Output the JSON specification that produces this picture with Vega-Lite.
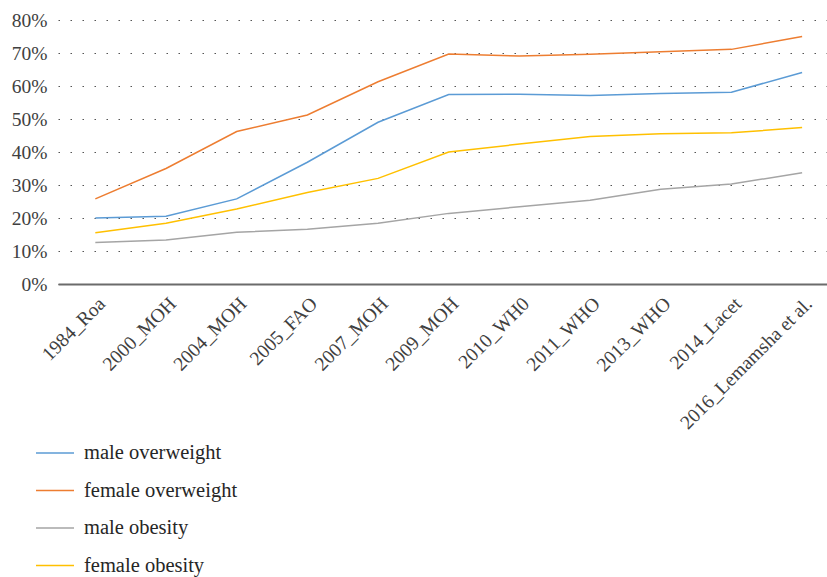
{
  "$schema": "https://vega.github.io/schema/vega-lite/v6.json",
  "width": 769,
  "height": 264,
  "autosize": "none",
  "padding": {"left": 58, "top": 20, "right": 0, "bottom": 293},
  "background": "white",
  "config": {
    "view": {"stroke": null},
    "font": "Liberation Serif, DejaVu Serif, serif",
    "axis": {"labelFont": "Liberation Serif, DejaVu Serif, serif"},
    "legend": {"labelFont": "Liberation Serif, DejaVu Serif, serif"}
  },
  "data": {
    "values": [
      {"source": "1984_Roa", "series": "male overweight", "value": 0.200},
      {"source": "2000_MOH", "series": "male overweight", "value": 0.205},
      {"source": "2004_MOH", "series": "male overweight", "value": 0.258},
      {"source": "2005_FAO", "series": "male overweight", "value": 0.369},
      {"source": "2007_MOH", "series": "male overweight", "value": 0.490},
      {"source": "2009_MOH", "series": "male overweight", "value": 0.574},
      {"source": "2010_WH0", "series": "male overweight", "value": 0.575},
      {"source": "2011_WHO", "series": "male overweight", "value": 0.571},
      {"source": "2013_WHO", "series": "male overweight", "value": 0.577},
      {"source": "2014_Lacet", "series": "male overweight", "value": 0.581},
      {"source": "2016_Lemamsha et al.", "series": "male overweight", "value": 0.641},
      {"source": "1984_Roa", "series": "female overweight", "value": 0.258},
      {"source": "2000_MOH", "series": "female overweight", "value": 0.350},
      {"source": "2004_MOH", "series": "female overweight", "value": 0.462},
      {"source": "2005_FAO", "series": "female overweight", "value": 0.512},
      {"source": "2007_MOH", "series": "female overweight", "value": 0.613},
      {"source": "2009_MOH", "series": "female overweight", "value": 0.697},
      {"source": "2010_WH0", "series": "female overweight", "value": 0.691},
      {"source": "2011_WHO", "series": "female overweight", "value": 0.696},
      {"source": "2013_WHO", "series": "female overweight", "value": 0.704},
      {"source": "2014_Lacet", "series": "female overweight", "value": 0.711},
      {"source": "2016_Lemamsha et al.", "series": "female overweight", "value": 0.750},
      {"source": "1984_Roa", "series": "male obesity", "value": 0.126},
      {"source": "2000_MOH", "series": "male obesity", "value": 0.133},
      {"source": "2004_MOH", "series": "male obesity", "value": 0.157},
      {"source": "2005_FAO", "series": "male obesity", "value": 0.166},
      {"source": "2007_MOH", "series": "male obesity", "value": 0.184},
      {"source": "2009_MOH", "series": "male obesity", "value": 0.214},
      {"source": "2010_WH0", "series": "male obesity", "value": 0.234},
      {"source": "2011_WHO", "series": "male obesity", "value": 0.254},
      {"source": "2013_WHO", "series": "male obesity", "value": 0.287},
      {"source": "2014_Lacet", "series": "male obesity", "value": 0.303},
      {"source": "2016_Lemamsha et al.", "series": "male obesity", "value": 0.337},
      {"source": "1984_Roa", "series": "female obesity", "value": 0.155},
      {"source": "2000_MOH", "series": "female obesity", "value": 0.184},
      {"source": "2004_MOH", "series": "female obesity", "value": 0.227},
      {"source": "2005_FAO", "series": "female obesity", "value": 0.277},
      {"source": "2007_MOH", "series": "female obesity", "value": 0.320},
      {"source": "2009_MOH", "series": "female obesity", "value": 0.400},
      {"source": "2010_WH0", "series": "female obesity", "value": 0.424},
      {"source": "2011_WHO", "series": "female obesity", "value": 0.447},
      {"source": "2013_WHO", "series": "female obesity", "value": 0.455},
      {"source": "2014_Lacet", "series": "female obesity", "value": 0.458},
      {"source": "2016_Lemamsha et al.", "series": "female obesity", "value": 0.474}
    ]
  },
  "mark": {"type": "line", "strokeWidth": 1.5},
  "encoding": {
    "x": {
      "field": "source",
      "type": "nominal",
      "sort": null,
      "scale": {"type": "point", "padding": 0.44, "align": 0.6},
      "axis": {
        "title": null,
        "labelAngle": -45,
        "labelFontSize": 19.5,
        "labelColor": "#404040",
        "ticks": false,
        "labelPadding": 10,
        "labelOverlap": false,
        "domainColor": "#6b6b6b",
        "domainWidth": 2,
        "grid": false
      }
    },
    "y": {
      "field": "value",
      "type": "quantitative",
      "scale": {"domain": [0, 0.8], "nice": false},
      "axis": {
        "title": null,
        "format": ".0%",
        "values": [0, 0.1, 0.2, 0.3, 0.4, 0.5, 0.6, 0.7, 0.8],
        "labelOverlap": false,
        "labelFontSize": 19.5,
        "labelColor": "#404040",
        "labelPadding": 11,
        "ticks": false,
        "domain": false,
        "grid": true,
        "gridColor": "#555555",
        "gridDash": [1.5, 10.5],
        "gridWidth": 1.2
      }
    },
    "color": {
      "field": "series",
      "type": "nominal",
      "scale": {
        "domain": ["male overweight", "female overweight", "male obesity", "female obesity"],
        "range": ["#5B9BD5", "#ED7D31", "#A5A5A5", "#FFC000"]
      },
      "legend": {
        "title": null,
        "orient": "none",
        "legendX": -23,
        "legendY": 413,
        "direction": "vertical",
        "symbolType": "stroke",
        "symbolSize": 1444,
        "symbolStrokeWidth": 1.5,
        "labelFontSize": 20.5,
        "labelColor": "#262626",
        "labelOffset": 9,
        "rowPadding": 6.5,
        "padding": 0
      }
    }
  }
}
